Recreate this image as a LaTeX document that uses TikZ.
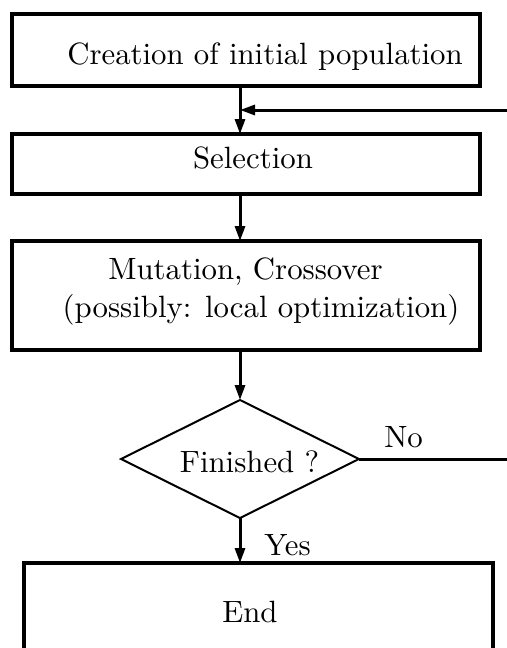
\documentclass[tikz,border=0pt]{standalone}
\usetikzlibrary{arrows.meta,shapes.geometric}

% 10pt design size, enlarged as a whole
\newcommand{\bigtxt}[1]{\scalebox{1.54}{#1}}

\begin{document}
\begin{tikzpicture}[x=0.5pt,y=-0.5pt,
  box/.style={draw,line width=2pt,inner sep=0pt,outer sep=0pt},
  txt/.style={inner sep=0pt,outer sep=0pt,anchor=base,font=\fontsize{10}{12}\selectfont},
  flow/.style={line width=1.5pt,-{Triangle[length=7.5pt,width=5pt]}},
  plain/.style={line width=1.5pt},
  decision/.style={draw,diamond,line width=1pt,inner sep=0pt,outer sep=0pt,
    minimum width=119pt,minimum height=59pt}]
  \useasboundingbox (0,0) rectangle (507,648);
  \clip (0,0) rectangle (507,648);

  % main flow axis and loop points
  \coordinate (axis) at (240,0);
  \coordinate (join) at (240,110);
  \coordinate (loopin) at (507,110);
  \coordinate (noend) at (507,459);

  % boxes
  \node[box,minimum width=234pt,minimum height=36pt] (init) at (246,50) {};
  \node[box,minimum width=234pt,minimum height=30pt] (sel) at (246,164) {};
  \node[box,minimum width=234pt,minimum height=54.5pt] (mut) at (246,295.5) {};
  \node[decision] (fin) at (240,459) {};
  \node[box,minimum width=234.5pt,minimum height=50pt] (end) at (258.5,613) {};

  % texts
  \node[txt] (tinit) at (265,64) {\bigtxt{Creation of initial population}};
  \node[txt] (tsel) at (253,168) {\bigtxt{Selection}};
  \node[txt] (tmut1) at (245.5,279) {\bigtxt{Mutation, Crossover}};
  \node[txt] (tmut2) at (261,317) {\bigtxt{(possibly: local optimization)}};
  \node[txt] (tfin) at (249.5,472) {\bigtxt{Finished ?}};
  \node[txt] (tno) at (403.5,447) {\bigtxt{No}};
  \node[txt] (tyes) at (287.5,555) {\bigtxt{Yes}};
  \node[txt] (tend) at (250,622) {\bigtxt{End}};

  % connectors
  \draw[flow] (init.south -| axis) -- (sel.north -| axis);
  \draw[flow] (loopin) -- (join);
  \draw[flow] (sel.south -| axis) -- (mut.north -| axis);
  \draw[flow] (mut.south -| axis) -- (fin.north);
  \draw[flow] (fin.south) -- (end.north -| fin.south);
  \draw[plain] (fin.east) -- (fin.east -| noend);
\end{tikzpicture}
\end{document}
